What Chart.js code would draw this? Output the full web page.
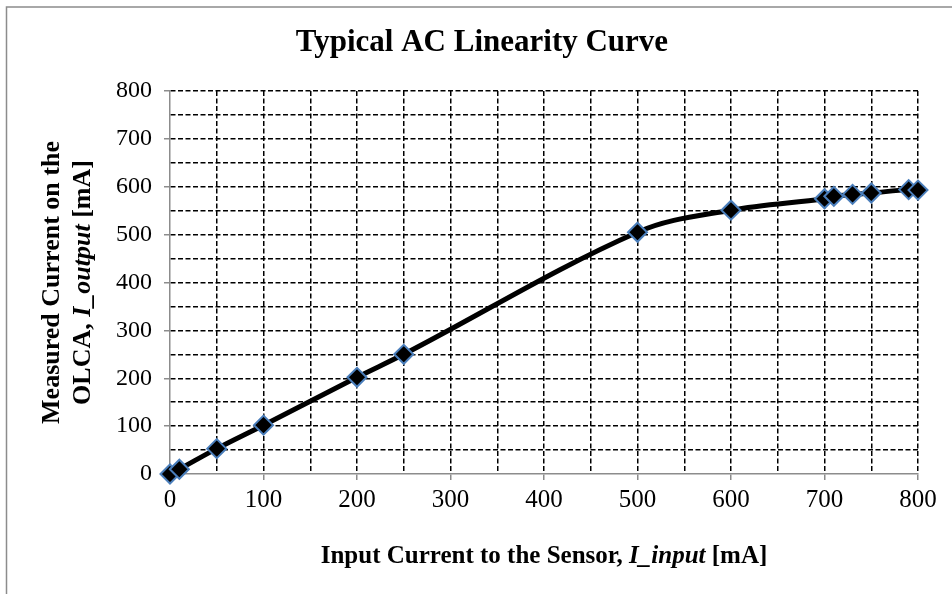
<!DOCTYPE html>
<html>
<head>
<meta charset="utf-8">
<script src="https://cdn.jsdelivr.net/npm/chart.js@4/dist/chart.umd.min.js"></script>
<style>
  html, body { margin: 0; padding: 0; background: #fff; }
  #wrap { width: 952px; height: 594px; position: relative; }
</style>
</head>
<body>
<div id="wrap"><canvas id="linearityChart" width="952" height="594"></canvas></div>
<script>
// Data
const inputCurrent = [0, 10, 50, 100, 200, 250, 500, 600, 700, 710, 730, 750, 790, 800];
const outputCurrent = [0, 10, 53, 102, 202, 250, 505, 551, 575, 580, 584, 587, 594, 593];
const axisMin = 0;
const axisMax = 800;
const gridStep = 50;
const labelStep = 100;

const SERIF = '"Liberation Serif", "Times New Roman", serif';

// Draw a line of text made of plain / italic pieces, centred on (0,0)
function drawMixed(ctx, parts, size) {
  let total = 0;
  parts.forEach(p => {
    ctx.font = (p.italic ? 'italic ' : '') + 'bold ' + size + 'px ' + SERIF;
    p.w = ctx.measureText(p.text).width;
    total += p.w;
  });
  let x = -total / 2;
  parts.forEach(p => {
    ctx.font = (p.italic ? 'italic ' : '') + 'bold ' + size + 'px ' + SERIF;
    ctx.fillText(p.text, x, 0);
    x += p.w;
  });
}

const textPlugin = {
  id: 'texts',
  afterDraw(chart) {
    const ctx = chart.ctx;
    const area = chart.chartArea;
    ctx.save();
    // outer frame
    ctx.strokeStyle = '#8c8c8c';
    ctx.lineWidth = 1.5;
    ctx.strokeRect(6.5, 7, 1000, 700);

    ctx.fillStyle = '#000';
    ctx.textAlign = 'left';
    ctx.textBaseline = 'middle';

    // title
    ctx.save();
    ctx.translate(482, 43);
    drawMixed(ctx, [{ text: 'Typical AC Linearity Curve' }], 31);
    ctx.restore();

    // x axis title
    ctx.save();
    ctx.translate((area.left + area.right) / 2, 557);
    drawMixed(ctx, [
      { text: 'Input Current to the Sensor, ' },
      { text: 'I_input', italic: true },
      { text: ' [mA]' }
    ], 25);
    ctx.restore();

    // y axis title (two lines)
    const cy = (area.top + area.bottom) / 2;
    ctx.save();
    ctx.translate(52, cy);
    ctx.rotate(-Math.PI / 2);
    drawMixed(ctx, [{ text: 'Measured Current on the' }], 26);
    ctx.restore();
    ctx.save();
    ctx.translate(83, cy);
    ctx.rotate(-Math.PI / 2);
    drawMixed(ctx, [
      { text: 'OLCA, ' },
      { text: 'I_output', italic: true },
      { text: ' [mA]' }
    ], 26);
    ctx.restore();
    ctx.restore();
  }
};

function gridColor(ctx) {
  return ctx.tick && ctx.tick.value === 0 ? 'rgba(0,0,0,0)' : '#000';
}
function tickColor(ctx) {
  return ctx.tick && ctx.tick.value % labelStep === 0 ? '#8c8c8c' : 'rgba(0,0,0,0)';
}
function tickLabel(value) {
  return value % labelStep === 0 ? value : '';
}

const points = inputCurrent.map((x, i) => ({ x: x, y: outputCurrent[i] }));

new Chart(document.getElementById('linearityChart'), {
  type: 'line',
  data: {
    datasets: [{
      data: points,
      borderColor: '#000',
      borderWidth: 5,
      tension: 0.35,
      clip: false,
      pointStyle: 'rectRot',
      pointRadius: 9.5,
      pointBackgroundColor: '#000',
      pointBorderColor: '#4a7ebb',
      pointBorderWidth: 2,
      fill: false
    }]
  },
  options: {
    responsive: false,
    animation: false,
    events: [],
    layout: { padding: { left: 0, right: 34, top: 91, bottom: 0 } },
    plugins: {
      legend: { display: false },
      title: { display: false },
      tooltip: { enabled: false }
    },
    scales: {
      x: {
        type: 'linear',
        min: axisMin,
        max: axisMax,
        afterFit: s => { s.height = 120; },
        ticks: {
          stepSize: gridStep,
          autoSkip: false,
          maxRotation: 0,
          padding: 5,
          color: '#000',
          font: { family: SERIF, size: 25 },
          callback: tickLabel
        },
        grid: {
          color: gridColor,
          lineWidth: 1.5,
          tickColor: tickColor,
          tickLength: 6,
          tickWidth: 1.5
        },
        border: { color: '#8c8c8c', width: 1.5, dash: [5, 2.5] }
      },
      y: {
        min: axisMin,
        max: axisMax,
        afterFit: s => { s.width = 170; },
        ticks: {
          stepSize: gridStep,
          autoSkip: false,
          padding: 12,
          color: '#000',
          font: { family: SERIF, size: 24 },
          callback: tickLabel
        },
        grid: {
          color: gridColor,
          lineWidth: 1.5,
          tickColor: tickColor,
          tickLength: 6,
          tickWidth: 1.5
        },
        border: { color: '#8c8c8c', width: 1.5, dash: [5, 2.5] }
      }
    }
  },
  plugins: [textPlugin]
});
</script>
</body>
</html>
